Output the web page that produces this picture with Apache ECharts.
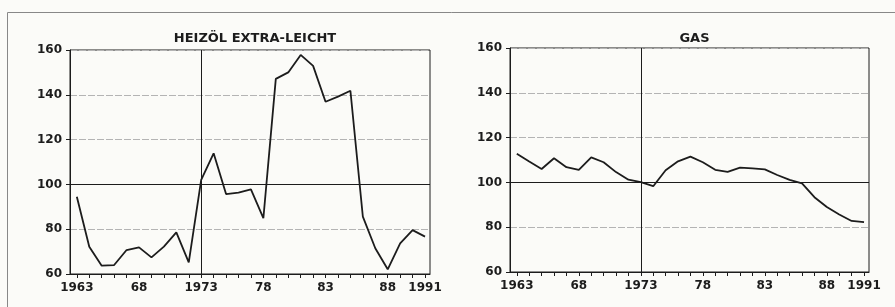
<!DOCTYPE html>
<html><head><meta charset="utf-8">
<script src="https://cdn.jsdelivr.net/npm/echarts@6/dist/echarts.min.js"></script>
<style>html,body{margin:0;padding:0;background:#fbfbf8;}#c{width:895px;height:307px;}</style>
</head><body><div id="c"></div>
<script>
const years = [1963,1964,1965,1966,1967,1968,1969,1970,1971,1972,1973,1974,1975,1976,1977,1978,1979,1980,1981,1982,1983,1984,1985,1986,1987,1988,1989,1990,1991];
const heizoel = [94.5,72.2,63.7,64.0,70.7,71.9,67.4,72.2,78.6,65.2,102.0,113.9,95.7,96.3,97.8,84.9,147.1,150.0,157.8,152.9,136.9,139.2,141.8,85.6,71.5,62.1,73.7,79.6,76.7];
const gas = [112.8,109.3,106.0,110.8,106.8,105.6,111.2,109.0,104.6,101.2,100.1,98.3,105.4,109.4,111.5,109.0,105.6,104.7,106.6,106.3,105.8,103.3,101.1,99.6,93.4,89.0,85.7,82.8,82.3];
const titles = ['HEIZÖL EXTRA-LEICHT', 'GAS'];
const xLabelYears = [1963,1968,1973,1978,1983,1988,1991];
const xLabelText = ['1963','68','1973','78','83','88','1991'];
const refYear = 1973;
const refValue = 100;

const FONT = 'DejaVu Sans';
const ink = '#1c1c1c';
const grids = [
  {left:70, top:50, width:360, height:224},
  {left:510, top:48, width:359, height:224}
];
function xAxis(i){
  return {
    type:'value', gridIndex:i, min:1962.45, max:1991.4,
    axisLine:{show:true, lineStyle:{color:ink, width:1}},
    axisTick:{show:true, customValues: years, length:4, inside:false, lineStyle:{color:ink}},
    axisLabel:{show:true, customValues: xLabelYears, margin:8, fontFamily:FONT, fontSize:12, fontWeight:'bold', color:ink,
      formatter: v => xLabelText[xLabelYears.indexOf(v)]},
    splitLine:{show:false}
  };
}
function yAxis(i){
  return {
    type:'value', gridIndex:i, min:60, max:160, interval:20,
    axisLine:{show:true, lineStyle:{color:ink, width:1}},
    axisTick:{show:true, length:4, lineStyle:{color:ink}},
    axisLabel:{margin:8, fontFamily:FONT, fontSize:12, fontWeight:'bold', color:ink},
    splitLine:{show:true, lineStyle:{color:'#b4b4b4', type:[7,2], width:1}}
  };
}
function series(i, data){
  return {
    type:'line', xAxisIndex:i, yAxisIndex:i, showSymbol:false, symbol:'none',
    data: years.map((y,k)=>[y, data[k]]),
    lineStyle:{color:ink, width:1.8}, z:5,
    markLine:{silent:true, symbol:'none', label:{show:false}, animation:false,
      lineStyle:{color:ink, type:'solid', width:1},
      data:[{xAxis:refYear},{yAxis:refValue}]}
  };
}
const chart = echarts.init(document.getElementById('c'), null, {renderer:'canvas'});
chart.setOption({
  animation:false,
  backgroundColor:'#fbfbf8',
  grid: grids.map(g=>Object.assign({show:true, borderColor:ink, borderWidth:1, backgroundColor:'transparent'}, g)),
  title: titles.map((t,i)=>({text:t, left: grids[i].left + grids[i].width/2, top:27, textAlign:'center',
    textStyle:{fontFamily:FONT, fontSize:13, fontWeight:'bold', color:ink}})),
  xAxis:[xAxis(0), xAxis(1)],
  yAxis:[yAxis(0), yAxis(1)],
  series:[series(0, heizoel), series(1, gas)],
  graphic:[{type:'rect', shape:{x:7.5, y:12.5, width:900, height:320}, style:{fill:null, stroke:'#888', lineWidth:1}, silent:true}]
});
</script></body></html>
